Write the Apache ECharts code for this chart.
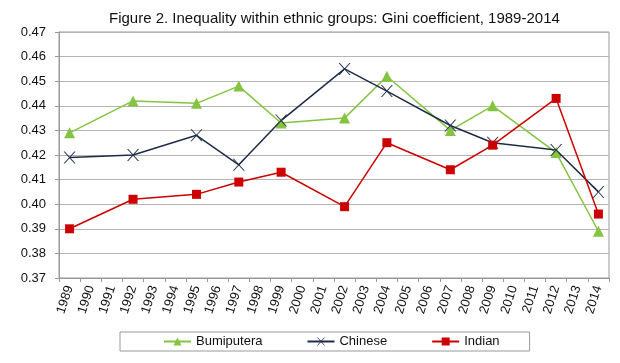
<!DOCTYPE html>
<html><head><meta charset="utf-8">
<script src="https://cdn.jsdelivr.net/npm/echarts@6/dist/echarts.min.js"></script>
<style>html,body{margin:0;padding:0;background:#fff}#c{width:620px;height:363px}</style>
</head><body><div id="c"></div>
<script>
const years = ['1989','1990','1991','1992','1993','1994','1995','1996','1997','1998','1999','2000','2001','2002','2003','2004','2005','2006','2007','2008','2009','2010','2011','2012','2013','2014'];
const surveyYears = ['1989','1992','1995','1997','1999','2002','2004','2007','2009','2012','2014'];
const bumiputera = [0.429,0.442,0.441,0.448,0.433,0.435,0.452,0.430,0.440,0.421,0.389];
const chinese    = [0.419,0.420,0.428,0.416,0.434,0.455,0.446,0.432,0.425,0.422,0.405];
const indian     = [0.390,0.402,0.404,0.409,0.413,0.399,0.425,0.414,0.424,0.443,0.396];

function expand(vals){
  return years.map(y => { const i = surveyYears.indexOf(y); return i >= 0 ? vals[i] : null; });
}
const font = 'Liberation Sans, Arial, sans-serif';
const xPath = 'path://M0,0 L2,0 L10,8 L18,0 L20,0 L11,9 L20,18 L18,18 L10,10 L2,18 L0,18 L9,9 Z';

const chart = echarts.init(document.getElementById('c'));
chart.setOption({
  animation:false,
  title:{text:'Figure 2. Inequality within ethnic groups: Gini coefficient, 1989-2014',left:104,top:6,
    textStyle:{fontFamily:font,fontSize:15,fontWeight:'normal',color:'#111'}},
  grid:{left:59,right:11,top:32,bottom:85,show:true,borderColor:'#999',borderWidth:1},
  legend:{left:120,top:332,itemGap:44,itemWidth:27,itemHeight:10,
    borderColor:'#999',borderWidth:1,padding:[3,30,3,43],
    textStyle:{fontFamily:font,fontSize:13,color:'#111'},
    data:['Bumiputera','Chinese','Indian']},
  xAxis:{type:'category',data:years,boundaryGap:true,
    axisLine:{lineStyle:{color:'#999'}},
    axisTick:{show:true,length:4,lineStyle:{color:'#999'}},
    axisLabel:{rotate:72,interval:0,fontFamily:font,fontSize:13,color:'#111',margin:8}},
  yAxis:{type:'value',min:0.37,max:0.47,interval:0.01,
    axisLine:{show:true,lineStyle:{color:'#999'}},
    axisTick:{show:true,length:4,lineStyle:{color:'#999'}},
    splitLine:{lineStyle:{color:'#b5b5b5',width:1}},
    axisLabel:{fontFamily:font,fontSize:13,color:'#111',margin:13,formatter:v=>v.toFixed(2)}},
  series:[
    {name:'Bumiputera',type:'line',data:expand(bumiputera),connectNulls:true,
      symbol:'triangle',symbolSize:11,color:'#84c441',lineStyle:{width:1.5,color:'#84c441'},itemStyle:{color:'#84c441'}},
    {name:'Chinese',type:'line',data:expand(chinese),connectNulls:true,
      symbol:xPath,symbolSize:12,color:'#1f2c48',lineStyle:{width:1.5,color:'#1f2c48'},itemStyle:{color:'#1f2c48'}},
    {name:'Indian',type:'line',data:expand(indian),connectNulls:true,
      symbol:'rect',symbolSize:9,color:'#cc0000',lineStyle:{width:1.5,color:'#cc0000'},itemStyle:{color:'#cc0000'}}
  ]
});
</script></body></html>
